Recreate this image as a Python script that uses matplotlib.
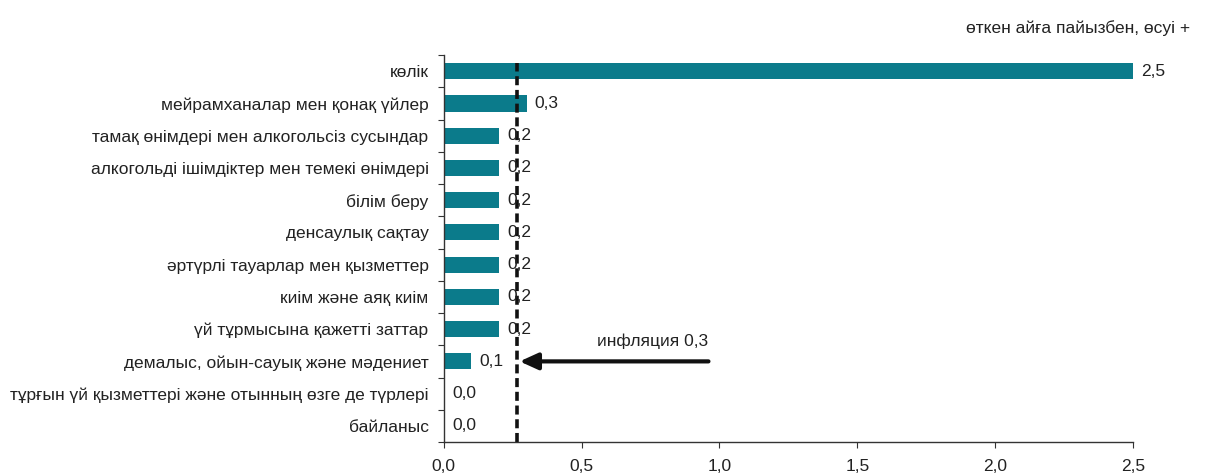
import numpy as np
import matplotlib.pyplot as plt

plt.rcParams['font.family'] = ['Liberation Sans', 'DejaVu Sans']

# Санаттар мен мәндер
санаттар = ['көлік', 'мейрамханалар мен қонақ үйлер', 'тамақ өнімдері мен алкогольсіз сусындар',
            'алкогольді ішімдіктер мен темекі өнімдері', 'білім беру', 'денсаулық сақтау',
            'әртүрлі тауарлар мен қызметтер', 'киім және аяқ киім', 'үй тұрмысына қажетті заттар',
            'демалыс, ойын-сауық және мәдениет', 'тұрғын үй қызметтері және отынның өзге де түрлері',
            'байланыс']
мәндер = [2.5, 0.3, 0.2, 0.2, 0.2, 0.2, 0.2, 0.2, 0.2, 0.1, 0.0, 0.0]
инфляция = 0.265
x_белгілер = [0.0, 0.5, 1.0, 1.5, 2.0, 2.5]

fs = 12.5
fig = plt.figure(figsize=(12.06, 4.75), dpi=100)
ax = fig.add_axes([0.368, 0.0695, 0.5715, 0.8145])

y = np.arange(len(санаттар))
ax.barh(y, мәндер, height=0.5, color='#0b7b8b')
for yi, v in zip(y, мәндер):
    ax.text(v + 0.03, yi, f'{v:.1f}'.replace('.', ','), va='center', ha='left',
            fontsize=fs, color='#222222')

ax.set_ylim(len(санаттар) - 0.5, -0.5)
ax.set_xlim(0, 2.5)
ax.set_yticks(np.arange(len(санаттар) + 1) - 0.5)
ax.set_yticklabels([])
ax.set_yticks(y, minor=True)
ax.set_yticklabels(санаттар, minor=True, fontsize=fs, color='#222222')
ax.tick_params(axis='y', which='minor', length=0, pad=11)
ax.tick_params(axis='y', which='major', length=4, color='#333333')
ax.set_xticks(x_белгілер)
ax.set_xticklabels([f'{t:.1f}'.replace('.', ',') for t in x_белгілер], fontsize=fs, color='#222222')
ax.tick_params(axis='x', length=4, pad=8, color='#333333')
for s in ['top', 'right']:
    ax.spines[s].set_visible(False)
for s in ['left', 'bottom']:
    ax.spines[s].set_color('#333333')
    ax.spines[s].set_linewidth(1.0)

# Инфляция сызығы
ax.axvline(инфляция, ymin=0, ymax=0.98, color='#111111', linestyle=(0, (2.5, 1.3)), linewidth=2.6)
ax.annotate('', xy=(инфляция + 0.01, 9), xytext=(0.96, 9),
            arrowprops=dict(arrowstyle='-|>,head_length=1.1,head_width=0.5', color='#111111',
                            lw=3, shrinkA=0, shrinkB=0))
ax.text(0.96, 8.62, 'инфляция 0,3', ha='right', va='bottom', fontsize=fs, color='#222222')

fig.text(0.987, 0.94, 'өткен айға пайызбен, өсуі +', ha='right', va='center', fontsize=fs,
         color='#222222')

fig.savefig('out.png', dpi=100)
